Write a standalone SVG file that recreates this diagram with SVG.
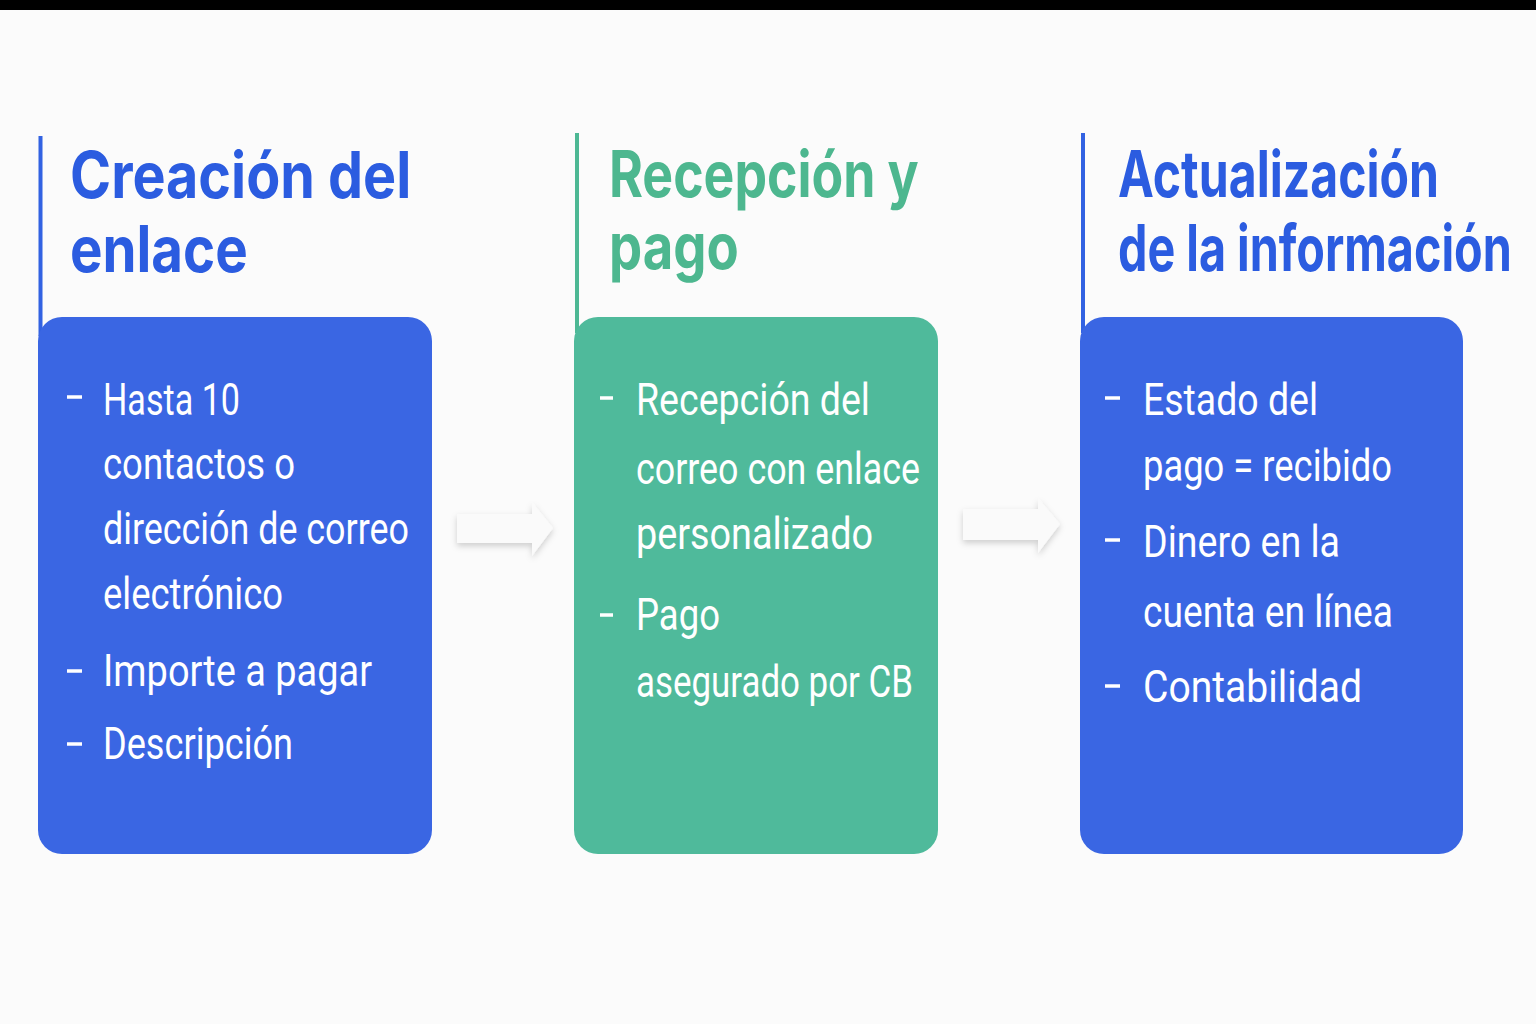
<svg xmlns="http://www.w3.org/2000/svg" width="1536" height="1024" viewBox="0 0 1536 1024">
<defs>
<filter id="sh" x="-20%" y="-20%" width="150%" height="160%">
<feDropShadow dx="0" dy="3" stdDeviation="3" flood-color="#000" flood-opacity="0.18"/>
</filter>
<style>
.hb{font-family:"Inter","Open Sans","Liberation Sans",sans-serif;font-weight:700;font-size:64px;fill:#2B5CE0}
.hg{font-family:"Inter","Open Sans","Liberation Sans",sans-serif;font-weight:700;font-size:64px;fill:#4DB78F}
.t{font-family:Roboto,"Liberation Sans",sans-serif;font-weight:400;font-size:45px;fill:#ffffff}
.d{stroke:#ffffff;stroke-width:3.5}
.arrow{fill:#fafafa;filter:url(#sh)}
</style>
</defs>
<rect x="0" y="0" width="1536" height="1024" fill="#fbfbfb"/>
<rect x="0" y="0" width="1536" height="10" fill="#000"/>

<g id="connectors">
<path class="arrow" d="M457 514 L532 514 L532 502 L553 528 L532 556 L532 543 L457 543 Z"/>
<path class="arrow" d="M963 509 L1038 509 L1038 498 L1060 524 L1038 553 L1038 540 L963 540 Z"/>
</g>

<g id="node1">
<rect x="38.5" y="136" width="4" height="200" fill="#3262E2"/>
<text class="hb" transform="translate(70,198) scale(0.75,1)" textLength="455" lengthAdjust="spacingAndGlyphs">Creación del</text>
<text class="hb" transform="translate(70,272) scale(0.75,1)" textLength="237" lengthAdjust="spacingAndGlyphs">enlace</text>
<rect x="38" y="317" width="394" height="537" rx="24" fill="#3A66E3"/>
<line class="d" x1="67" y1="397" x2="82" y2="397"/>
<line class="d" x1="67" y1="671" x2="82" y2="671"/>
<line class="d" x1="67" y1="744" x2="82" y2="744"/>
<text class="t" x="103" y="415" textLength="137" lengthAdjust="spacingAndGlyphs">Hasta 10</text>
<text class="t" x="103" y="479" textLength="192" lengthAdjust="spacingAndGlyphs">contactos o</text>
<text class="t" x="103" y="544" textLength="306" lengthAdjust="spacingAndGlyphs">dirección de correo</text>
<text class="t" x="103" y="609" textLength="180" lengthAdjust="spacingAndGlyphs">electrónico</text>
<text class="t" x="103" y="686" textLength="269" lengthAdjust="spacingAndGlyphs">Importe a pagar</text>
<text class="t" x="103" y="759" textLength="190" lengthAdjust="spacingAndGlyphs">Descripción</text>
</g>

<g id="node2">
<rect x="575" y="133" width="4" height="200" fill="#4DB894"/>
<text class="hg" transform="translate(609,197) scale(0.75,1)" textLength="413" lengthAdjust="spacingAndGlyphs">Recepción y</text>
<text class="hg" transform="translate(609,269) scale(0.75,1)" textLength="173" lengthAdjust="spacingAndGlyphs">pago</text>
<rect x="574" y="317" width="364" height="537" rx="24" fill="#4FBA9B"/>
<line class="d" x1="600" y1="398" x2="613" y2="398"/>
<line class="d" x1="600" y1="615" x2="613" y2="615"/>
<text class="t" x="636" y="415" textLength="234" lengthAdjust="spacingAndGlyphs">Recepción del</text>
<text class="t" x="636" y="484" textLength="284" lengthAdjust="spacingAndGlyphs">correo con enlace</text>
<text class="t" x="636" y="549" textLength="237" lengthAdjust="spacingAndGlyphs">personalizado</text>
<text class="t" x="636" y="630" textLength="84" lengthAdjust="spacingAndGlyphs">Pago</text>
<text class="t" x="636" y="697" textLength="277" lengthAdjust="spacingAndGlyphs">asegurado por CB</text>
</g>

<g id="node3">
<rect x="1081" y="133" width="4" height="200" fill="#3262E2"/>
<text class="hb" transform="translate(1118,197) scale(0.75,1)" textLength="428" lengthAdjust="spacingAndGlyphs">Actualización</text>
<text class="hb" transform="translate(1118,271) scale(0.75,1)" textLength="525" lengthAdjust="spacingAndGlyphs">de la información</text>
<rect x="1080" y="317" width="383" height="537" rx="24" fill="#3A66E3"/>
<line class="d" x1="1105" y1="398" x2="1120" y2="398"/>
<line class="d" x1="1105" y1="540" x2="1120" y2="540"/>
<line class="d" x1="1105" y1="686" x2="1120" y2="686"/>
<text class="t" x="1143" y="415" textLength="175" lengthAdjust="spacingAndGlyphs">Estado del</text>
<text class="t" x="1143" y="481" textLength="249" lengthAdjust="spacingAndGlyphs">pago = recibido</text>
<text class="t" x="1143" y="557" textLength="197" lengthAdjust="spacingAndGlyphs">Dinero en la</text>
<text class="t" x="1143" y="627" textLength="250" lengthAdjust="spacingAndGlyphs">cuenta en línea</text>
<text class="t" x="1143" y="702" textLength="219" lengthAdjust="spacingAndGlyphs">Contabilidad</text>
</g>
</svg>
